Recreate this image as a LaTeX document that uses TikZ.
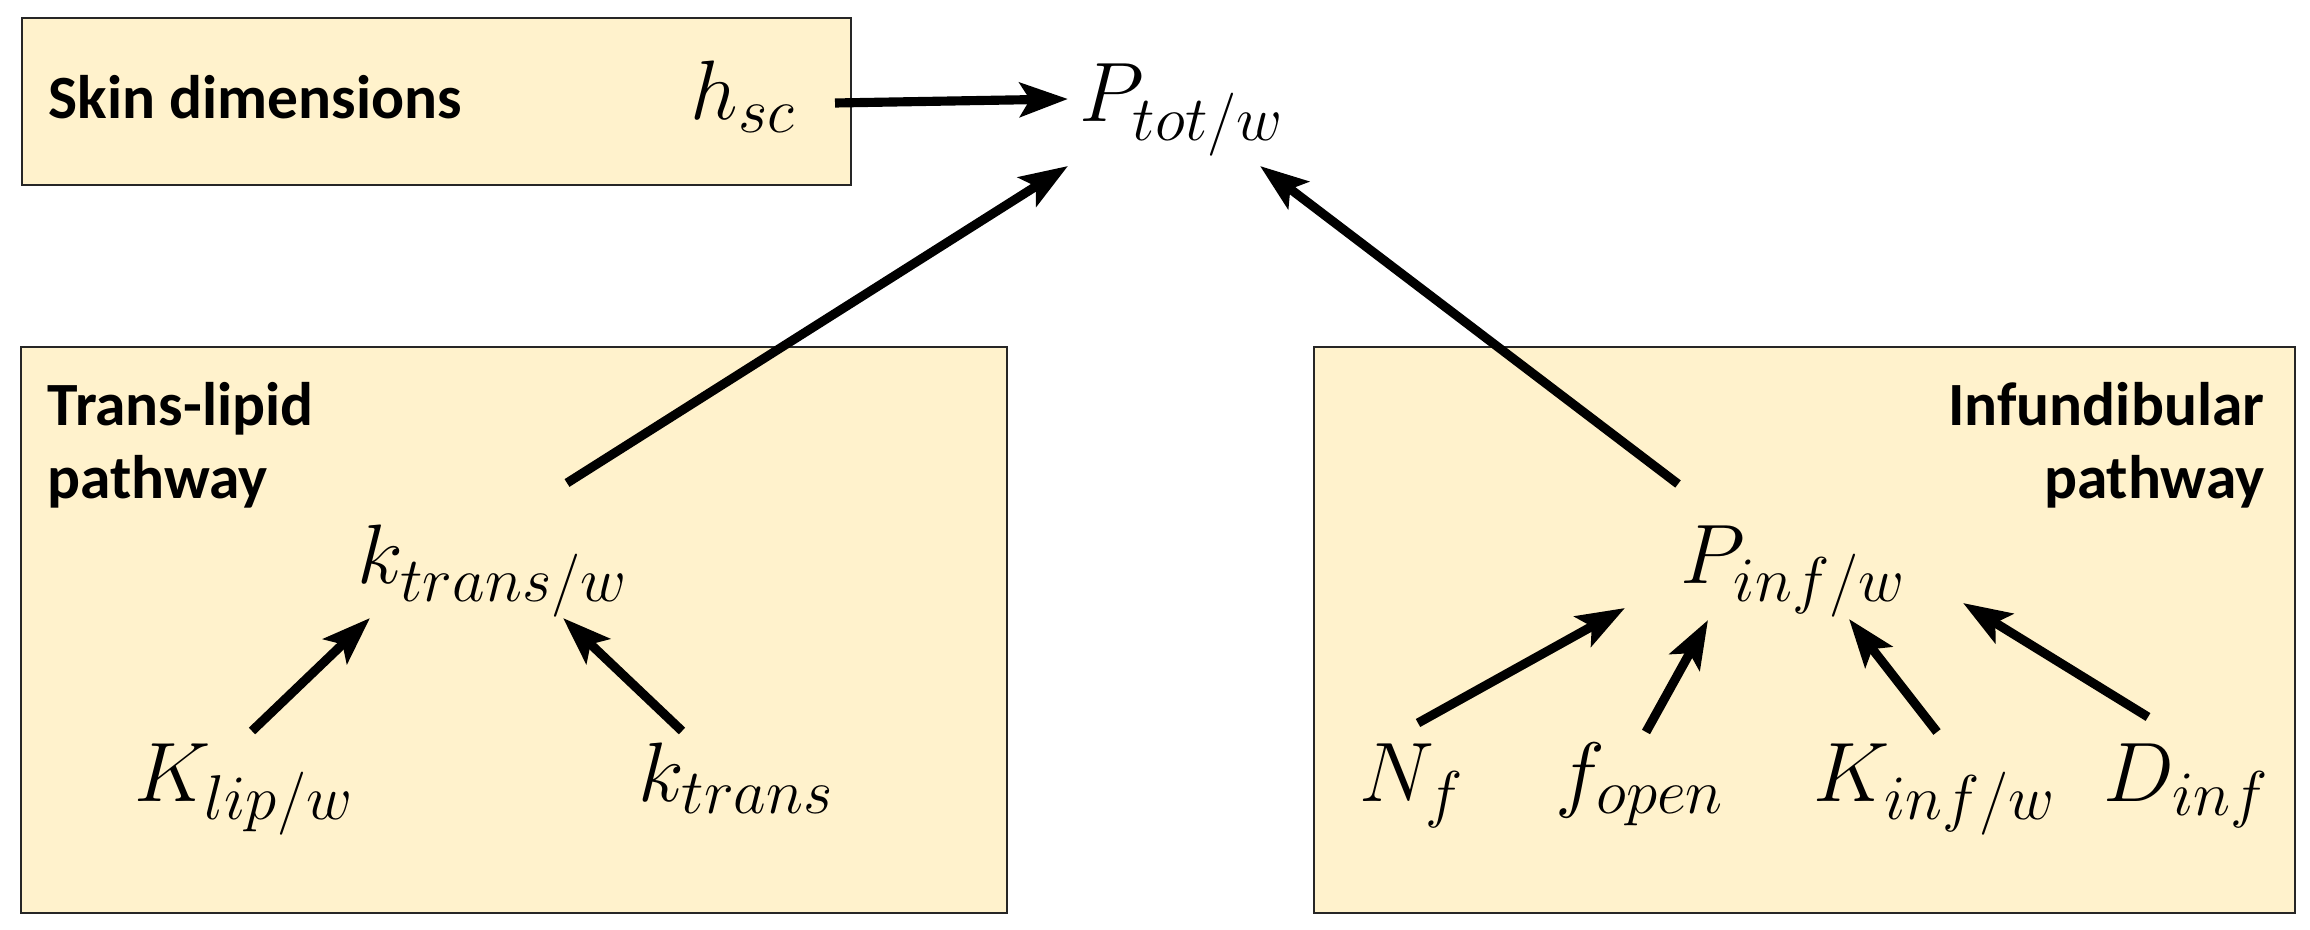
\RequirePackage{fix-cm}
\documentclass[tikz,border=0pt]{standalone}
\usepackage{fontspec}
\newfontfamily\labelfont{Carlito}
\usetikzlibrary{arrows.meta,positioning}
\definecolor{boxfill}{HTML}{FFF2CC}
\DeclareMathSizes{24}{24}{18}{14}

\begin{document}
\begin{tikzpicture}[
    box/.style={rectangle, draw=black!85, line width=0.6pt, fill=boxfill, anchor=north west, inner sep=0pt},
    lbl/.style={font=\labelfont\bfseries\fontsize{17.5}{20.7}\selectfont, inner sep=0pt},
    var/.style={font=\fontsize{24}{29}\selectfont, anchor=base west, inner sep=0pt},
    arrow/.style={line width=2.6pt, -{Stealth[length=4.8mm,width=3.4mm,inset=1mm]}}
]
\useasboundingbox (0,0) rectangle (23.1,-9.3);

% Boxes
\node[box, minimum width=8.29cm, minimum height=1.67cm] (skinbox) at (0.21,-0.17) {};
\node[box, minimum width=9.86cm, minimum height=5.66cm] (lipidbox) at (0.20,-3.46) {};
\node[box, minimum width=9.81cm, minimum height=5.66cm] (infbox) at (13.13,-3.46) {};

% Box titles
\node[lbl, anchor=base west] (skinlbl) at (0.48,-1.19) {Skin dimensions};
\node[lbl, anchor=base west, align=left] (lipidlbl) at (0.47,-4.98) {Trans-lipid\\pathway};
\node[lbl, anchor=base east, align=right] (inflbl) at (22.65,-4.98) {Infundibular\\pathway};

% Top level
\node[var] (hsc) at (6.90,-1.20) {$h_{sc}$};
\node[var] (ptot) at (10.79,-1.22) {$P_{tot/w}$};

% Trans-lipid variables
\node[var] (ktransw) at (3.57,-5.83) {$k_{trans/w}$};
\node[var] (klip) at (1.34,-8.01) {$K_{lip/w}$};
\node[var] (ktrans) at (6.38,-8.01) {$k_{trans}$};

% Infundibular variables
\node[var] (pinf) at (16.80,-5.83) {$P_{inf/w}$};
\node[var] (nf) at (13.59,-8.01) {$N_f$};
\node[var] (fopen) at (15.55,-8.01) {$f_{open}$};
\node[var] (kinf) at (18.13,-8.01) {$K_{inf/w}$};
\node[var] (dinf) at (21.03,-8.01) {$D_{inf}$};

% Arrows into P_tot/w
\draw[arrow] ([shift={(1.45,0.17)}]hsc.base west) -- ([shift={(-0.11,0.23)}]ptot.base west);
\draw[arrow] ([shift={(2.10,1.00)}]ktransw.base west) -- ([shift={(-0.11,-0.44)}]ptot.base west);
\draw[arrow] ([shift={(-0.02,0.99)}]pinf.base west) -- ([shift={(1.81,-0.44)}]ptot.base west);

% Trans-lipid arrows
\draw[arrow] ([shift={(1.18,0.70)}]klip.base west) -- ([shift={(0.13,-0.35)}]ktransw.base west);
\draw[arrow] ([shift={(0.44,0.70)}]ktrans.base west) -- ([shift={(2.06,-0.35)}]ktransw.base west);

% Infundibular arrows
\draw[arrow] ([shift={(0.59,0.78)}]nf.base west) -- ([shift={(-0.55,-0.25)}]pinf.base west);
\draw[arrow] ([shift={(0.91,0.69)}]fopen.base west) -- ([shift={(0.28,-0.37)}]pinf.base west);
\draw[arrow] ([shift={(1.24,0.69)}]kinf.base west) -- ([shift={(1.69,-0.36)}]pinf.base west);
\draw[arrow] ([shift={(0.45,0.84)}]dinf.base west) -- ([shift={(2.83,-0.20)}]pinf.base west);

\end{tikzpicture}
\end{document}
